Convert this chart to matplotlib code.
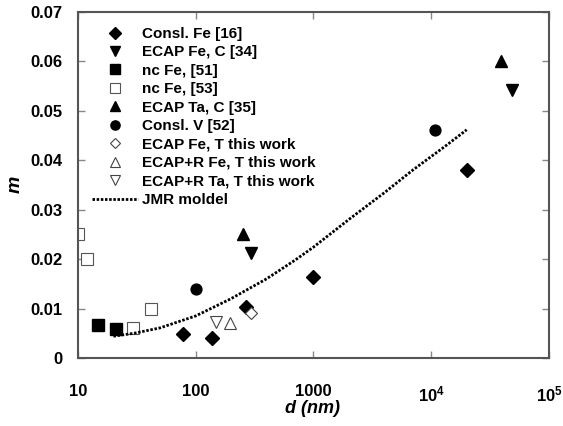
import numpy as np
import matplotlib
matplotlib.use("Agg")
import matplotlib.pyplot as plt

plt.rcParams['font.family'] = ['Liberation Sans', 'DejaVu Sans']
plt.rcParams['font.weight'] = 'bold'
plt.rcParams['mathtext.fontset'] = 'custom'
plt.rcParams['mathtext.bf'] = 'Liberation Sans:bold'
plt.rcParams['mathtext.rm'] = 'Liberation Sans:bold'
plt.rcParams['mathtext.default'] = 'bf'

# data: grain size d (nm) and strain rate sensitivity m
consl_fe_d = [78, 137, 265, 1000, 20000]
consl_fe_m = [0.0049, 0.0040, 0.0104, 0.0164, 0.0380]

ecap_fe_c_d = [292, 48500]
ecap_fe_c_m = [0.0212, 0.0541]

nc_fe51_d = [14.7, 20.9]
nc_fe51_m = [0.0067, 0.0059]

nc_fe53_d = [10, 12, 29.6, 41.8]
nc_fe53_m = [0.0250, 0.0201, 0.0061, 0.0100]

ecap_ta_c_d = [250, 39200]
ecap_ta_c_m = [0.0250, 0.0600]

consl_v_d = [100, 10700]
consl_v_m = [0.0140, 0.0461]

ecap_fe_t_d = [296]
ecap_fe_t_m = [0.0091]

ecapr_fe_t_d = [197]
ecapr_fe_t_m = [0.0070]

ecapr_ta_t_d = [150]
ecapr_ta_t_m = [0.0072]

jmr_d = [20, 30, 50, 100, 200, 400, 700, 1000, 2000, 4000, 7000, 13000, 20000]
jmr_m = [0.0044, 0.0050, 0.0061, 0.0085, 0.0120, 0.0160, 0.0198, 0.0224,
         0.0280, 0.0334, 0.0380, 0.0427, 0.0461]

fig = plt.figure(figsize=(5.63, 4.26), dpi=100)
ax = fig.add_axes([0.1385, 0.1596, 0.8366, 0.8134])

ax.plot(consl_fe_d, consl_fe_m, 'D', ms=6.8, color='black', label='Consl. Fe [16]')
ax.plot(ecap_fe_c_d, ecap_fe_c_m, 'v', ms=8.5, color='black', label='ECAP Fe, C [34]')
ax.plot(nc_fe51_d, nc_fe51_m, 's', ms=8.5, color='black', label='nc Fe, [51]')
ax.plot(nc_fe53_d, nc_fe53_m, 's', ms=8.5, mfc='white', mec='#555555', mew=0.8,
        label='nc Fe, [53]')
ax.plot(ecap_ta_c_d, ecap_ta_c_m, '^', ms=8.5, color='black', label='ECAP Ta, C [35]')
ax.plot(consl_v_d, consl_v_m, 'o', ms=7.8, color='black', label='Consl. V [52]')
ax.plot(ecap_fe_t_d, ecap_fe_t_m, 'D', ms=6.5, mfc='white', mec='#444444', mew=0.8,
        label='ECAP Fe, T this work')
ax.plot(ecapr_fe_t_d, ecapr_fe_t_m, '^', ms=8.5, mfc='white', mec='#444444', mew=0.8,
        label='ECAP+R Fe, T this work')
ax.plot(ecapr_ta_t_d, ecapr_ta_t_m, 'v', ms=8.5, mfc='white', mec='#444444', mew=0.8,
        label='ECAP+R Ta, T this work')
ax.plot(jmr_d, jmr_m, color='black', lw=2.0, ls=(0, (0.9, 0.6)),
        dash_capstyle='butt', label='JMR moldel')

ax.set_xscale('log')
ax.set_xlim(10, 1e5)
ax.set_ylim(0, 0.07)
ax.set_xticks([10, 100, 1000, 1e4, 1e5])
ax.set_xticklabels(['10', '100', '1000', r'$10^4$', r'$10^5$'])
ax.xaxis.set_minor_locator(matplotlib.ticker.NullLocator())
yt = np.arange(0, 0.071, 0.01)
ax.set_yticks(yt)
ax.set_yticklabels(['0'] + ['%.2f' % v for v in yt[1:]])

ax.tick_params(which='both', direction='in', top=True, right=True,
               length=5, width=1, color='#888888', labelsize=12)
ax.tick_params(axis='x', pad=19)
ax.tick_params(axis='y', pad=11)
for s in ax.spines.values():
    s.set_color('#555555')
    s.set_linewidth(1.5)

ax.set_xlabel('d (nm)', fontsize=13, fontstyle='italic', fontweight='bold')
ax.set_ylabel('m', fontsize=14, fontstyle='italic', fontweight='bold')
ax.xaxis.set_label_coords(0.497, -0.12)
ax.yaxis.set_label_coords(-0.115, 0.5)

ax.legend(loc='upper left', bbox_to_anchor=(0.0, 0.995), frameon=False,
          fontsize=11, handlelength=3.0, handletextpad=0.3, labelspacing=0.29,
          markerscale=0.85, borderaxespad=0.5)

fig.savefig('out.png', dpi=100)
